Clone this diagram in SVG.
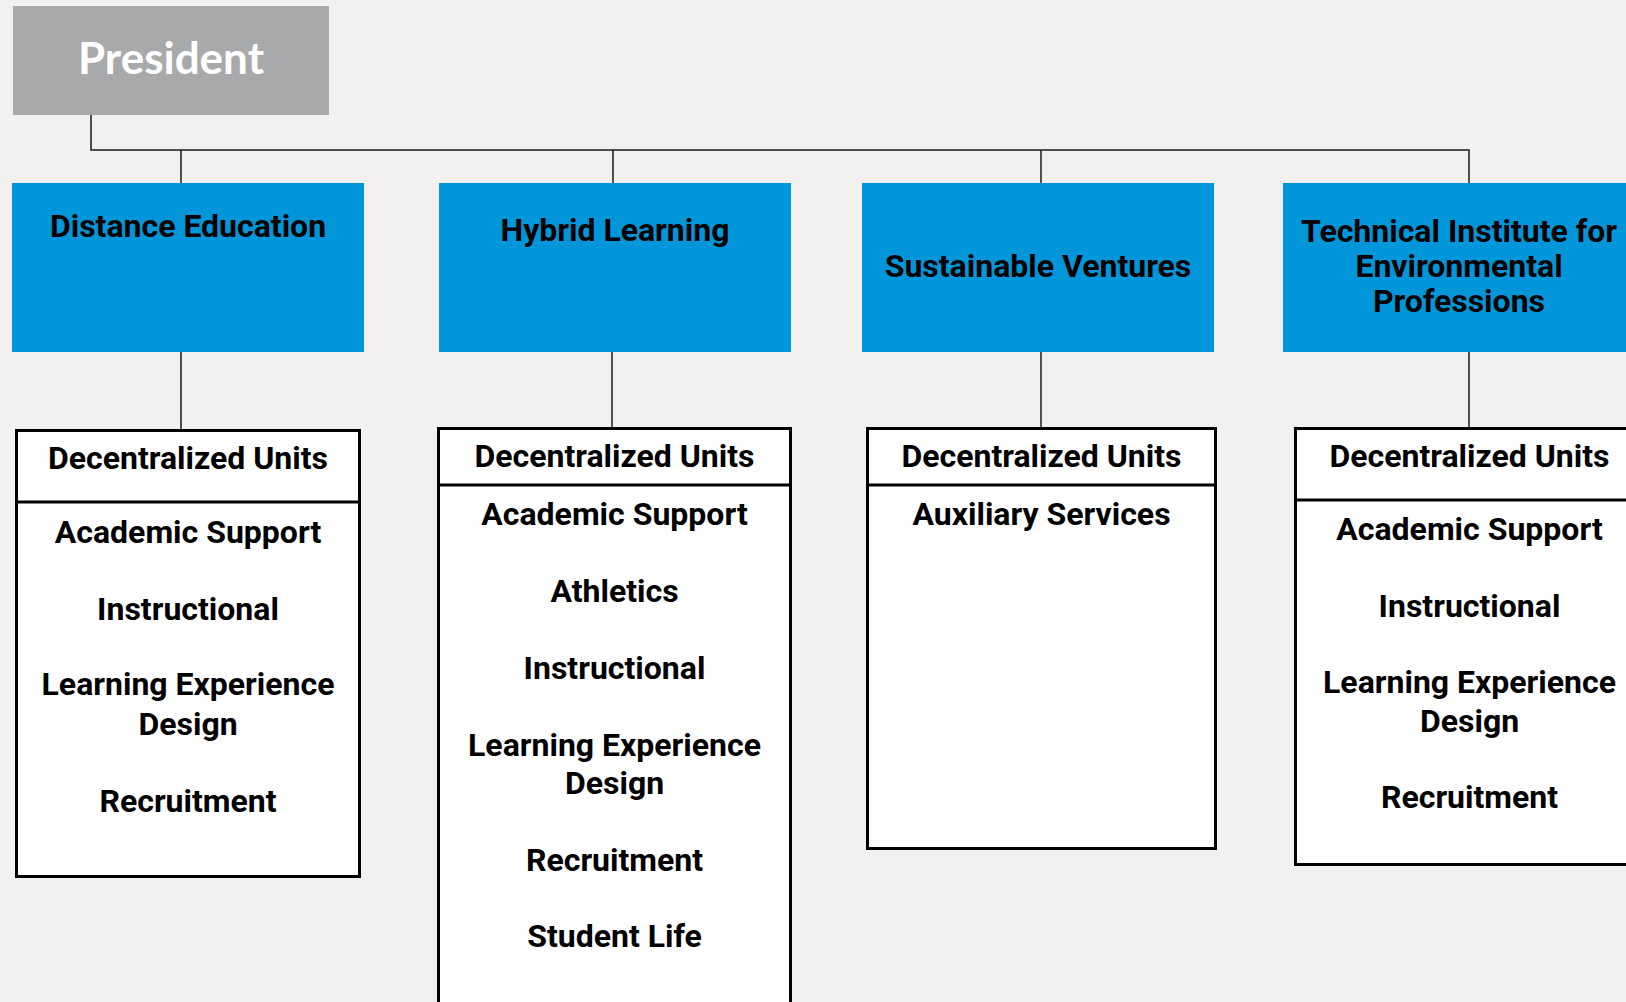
<svg xmlns="http://www.w3.org/2000/svg" width="1626" height="1002" viewBox="0 0 1626 1002">
<style>
.bg{fill:#f2f1ef}
.pres{fill:#a8a9ab}
.blue{fill:#0096d9}
.unit{fill:#ffffff;stroke:#000000;stroke-width:3}
.div{stroke:#000000;stroke-width:3}
.con{stroke:#1a1a1a;stroke-width:1.5;fill:none}
.t{font-family:Roboto,"Liberation Sans",sans-serif;font-weight:bold;font-size:32px;fill:#000000;text-anchor:middle}
.pt{font-family:Lato,"Noto Sans",sans-serif;font-weight:bold;font-size:44px;fill:#ffffff;text-anchor:middle}
</style>
<rect class="bg" x="0" y="0" width="1626" height="1002"/>
<g id="connectors">
<path class="con" d="M91,115 V150 H1469 V183"/>
<path class="con" d="M181,150 V183"/>
<path class="con" d="M613,150 V183"/>
<path class="con" d="M1041,150 V183"/>
<path class="con" d="M181,352 V429"/>
<path class="con" d="M612,352 V427"/>
<path class="con" d="M1041,352 V427"/>
<path class="con" d="M1469,352 V427"/>
</g>
<g id="president">
<rect class="pres" x="13" y="6" width="316" height="109"/>
<text class="pt" x="171" y="74">President</text>
</g>
<g id="distance-education">
<rect class="blue" x="12" y="183" width="352" height="169"/>
<text class="t" x="188" y="237">Distance Education</text>
</g>
<g id="hybrid-learning">
<rect class="blue" x="439" y="183" width="352" height="169"/>
<text class="t" x="615" y="241">Hybrid Learning</text>
</g>
<g id="sustainable-ventures">
<rect class="blue" x="862" y="183" width="352" height="169"/>
<text class="t" x="1038" y="277">Sustainable Ventures</text>
</g>
<g id="technical-institute">
<rect class="blue" x="1283" y="183" width="352" height="169"/>
<text class="t" x="1459" y="242">Technical Institute for</text>
<text class="t" x="1459" y="277">Environmental</text>
<text class="t" x="1459" y="312">Professions</text>
</g>
<g id="units-distance">
<rect class="unit" x="16.5" y="430.5" width="343" height="446"/>
<line class="div" x1="16.5" y1="502" x2="359.5" y2="502"/>
<text class="t" x="188" y="469">Decentralized Units</text>
<text class="t" x="188" y="543">Academic Support</text>
<text class="t" x="188" y="620">Instructional</text>
<text class="t" x="188" y="695">Learning Experience</text>
<text class="t" x="188" y="735">Design</text>
<text class="t" x="188" y="812">Recruitment</text>
</g>
<g id="units-hybrid">
<rect class="unit" x="438.5" y="428.5" width="352" height="600"/>
<line class="div" x1="438.5" y1="485" x2="790.5" y2="485"/>
<text class="t" x="614.5" y="467">Decentralized Units</text>
<text class="t" x="614.5" y="525">Academic Support</text>
<text class="t" x="614.5" y="602">Athletics</text>
<text class="t" x="614.5" y="679">Instructional</text>
<text class="t" x="614.5" y="756">Learning Experience</text>
<text class="t" x="614.5" y="794">Design</text>
<text class="t" x="614.5" y="871">Recruitment</text>
<text class="t" x="614.5" y="947">Student Life</text>
</g>
<g id="units-sustainable">
<rect class="unit" x="867.5" y="428.5" width="348" height="420"/>
<line class="div" x1="867.5" y1="485" x2="1215.5" y2="485"/>
<text class="t" x="1041.5" y="467">Decentralized Units</text>
<text class="t" x="1041.5" y="525">Auxiliary Services</text>
</g>
<g id="units-technical">
<rect class="unit" x="1295.5" y="428.5" width="348" height="436"/>
<line class="div" x1="1295.5" y1="500" x2="1643.5" y2="500"/>
<text class="t" x="1469.5" y="467">Decentralized Units</text>
<text class="t" x="1469.5" y="540">Academic Support</text>
<text class="t" x="1469.5" y="617">Instructional</text>
<text class="t" x="1469.5" y="693">Learning Experience</text>
<text class="t" x="1469.5" y="732">Design</text>
<text class="t" x="1469.5" y="808">Recruitment</text>
</g>
</svg>
